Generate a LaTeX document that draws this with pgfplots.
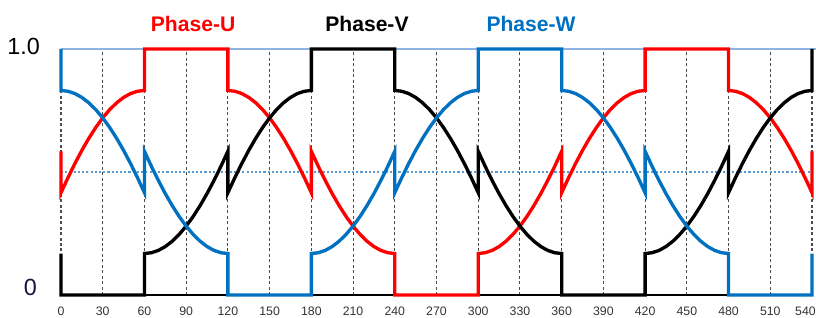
\documentclass[border=0pt]{standalone}
\usepackage{pgfplots}
\pgfplotsset{compat=1.18}
\usepackage{fontspec}
\setmainfont{Liberation Sans}
\definecolor{ured}{RGB}{255,0,0}
\definecolor{wblue}{RGB}{0,112,192}
\definecolor{lblue}{RGB}{141,180,226}
\definecolor{dblue}{RGB}{91,155,213}
\definecolor{navy}{RGB}{20,20,60}
\begin{document}
\begin{tikzpicture}
\useasboundingbox (-1.22,-0.46) rectangle (15.10,5.90);
\begin{axis}[
  at={(0,0)}, anchor=south west, scale only axis,
  width=15.02cm, height=4.92cm,
  xmin=0, xmax=540, ymin=0, ymax=1,
  clip=false,
  axis line style={draw=none},
  xtick={0,30,...,510}, ytick=\empty,
  extra x ticks={540},
  extra x tick style={xticklabel style={xshift=-0.13cm}},
  major tick length=0pt,
  xmajorgrids,
  grid style={color=black!70, line width=0.6pt, dash pattern=on 1.7pt off 1.4pt},
  /pgf/number format/assume math mode=true,
  xticklabel style={font=\fontsize{7}{8}\selectfont, text=black!80, inner sep=0pt, anchor=north, yshift=-0.24cm},
]
\draw[lblue, line width=0.6pt] (axis cs:0,1) -- (axis cs:570,1);
\draw[dblue, line width=0.6pt, dash pattern=on 1.2pt off 1.2pt] (axis cs:0,0.5) -- (axis cs:540,0.5);
\draw[black, line width=0.9pt] (axis cs:0,0) -- (axis cs:540,0);

% Phase-U
\addplot[ured, line width=1.9pt] coordinates {
(0,0.5843)(0,0.4157)(5,0.4769)(10,0.5344)(15,0.5879)(20,0.6369)(25,0.6810)(30,0.7200)(35,0.7535)(40,0.7813)(45,0.8031)(50,0.8188)(55,0.8282)(60,0.8314)
(60,1)(120,1)(120,0.8314)(125,0.8282)(130,0.8188)(135,0.8031)(140,0.7813)(145,0.7535)(150,0.7200)(155,0.6810)(160,0.6369)(165,0.5879)(170,0.5344)(175,0.4769)(180,0.4157)
(180,0.5843)(185,0.5231)(190,0.4656)(195,0.4121)(200,0.3631)(205,0.3190)(210,0.2800)(215,0.2465)(220,0.2187)(225,0.1969)(230,0.1812)(235,0.1718)(240,0.1686)
(240,0)(300,0)(300,0.1686)(305,0.1718)(310,0.1812)(315,0.1969)(320,0.2187)(325,0.2465)(330,0.2800)(335,0.3190)(340,0.3631)(345,0.4121)(350,0.4656)(355,0.5231)(360,0.5843)
(360,0.4157)(365,0.4769)(370,0.5344)(375,0.5879)(380,0.6369)(385,0.6810)(390,0.7200)(395,0.7535)(400,0.7813)(405,0.8031)(410,0.8188)(415,0.8282)(420,0.8314)
(420,1)(480,1)(480,0.8314)(485,0.8282)(490,0.8188)(495,0.8031)(500,0.7813)(505,0.7535)(510,0.7200)(515,0.6810)(520,0.6369)(525,0.5879)(530,0.5344)(535,0.4769)(540,0.4157)(540,0.5843)
};
% Phase-V
\addplot[black, line width=1.9pt] coordinates {
(0,0.1686)(0,0)(60,0)(60,0.1686)(65,0.1718)(70,0.1812)(75,0.1969)(80,0.2187)(85,0.2465)(90,0.2800)(95,0.3190)(100,0.3631)(105,0.4121)(110,0.4656)(115,0.5231)(120,0.5843)
(120,0.4157)(125,0.4769)(130,0.5344)(135,0.5879)(140,0.6369)(145,0.6810)(150,0.7200)(155,0.7535)(160,0.7813)(165,0.8031)(170,0.8188)(175,0.8282)(180,0.8314)
(180,1)(240,1)(240,0.8314)(245,0.8282)(250,0.8188)(255,0.8031)(260,0.7813)(265,0.7535)(270,0.7200)(275,0.6810)(280,0.6369)(285,0.5879)(290,0.5344)(295,0.4769)(300,0.4157)
(300,0.5843)(305,0.5231)(310,0.4656)(315,0.4121)(320,0.3631)(325,0.3190)(330,0.2800)(335,0.2465)(340,0.2187)(345,0.1969)(350,0.1812)(355,0.1718)(360,0.1686)
(360,0)(420,0)(420,0.1686)(425,0.1718)(430,0.1812)(435,0.1969)(440,0.2187)(445,0.2465)(450,0.2800)(455,0.3190)(460,0.3631)(465,0.4121)(470,0.4656)(475,0.5231)(480,0.5843)
(480,0.4157)(485,0.4769)(490,0.5344)(495,0.5879)(500,0.6369)(505,0.6810)(510,0.7200)(515,0.7535)(520,0.7813)(525,0.8031)(530,0.8188)(535,0.8282)(540,0.8314)(540,1)
};
% Phase-W
\addplot[wblue, line width=1.9pt] coordinates {
(0,1)(0,0.8314)(5,0.8282)(10,0.8188)(15,0.8031)(20,0.7813)(25,0.7535)(30,0.7200)(35,0.6810)(40,0.6369)(45,0.5879)(50,0.5344)(55,0.4769)(60,0.4157)
(60,0.5843)(65,0.5231)(70,0.4656)(75,0.4121)(80,0.3631)(85,0.3190)(90,0.2800)(95,0.2465)(100,0.2187)(105,0.1969)(110,0.1812)(115,0.1718)(120,0.1686)
(120,0)(180,0)(180,0.1686)(185,0.1718)(190,0.1812)(195,0.1969)(200,0.2187)(205,0.2465)(210,0.2800)(215,0.3190)(220,0.3631)(225,0.4121)(230,0.4656)(235,0.5231)(240,0.5843)
(240,0.4157)(245,0.4769)(250,0.5344)(255,0.5879)(260,0.6369)(265,0.6810)(270,0.7200)(275,0.7535)(280,0.7813)(285,0.8031)(290,0.8188)(295,0.8282)(300,0.8314)
(300,1)(360,1)(360,0.8314)(365,0.8282)(370,0.8188)(375,0.8031)(380,0.7813)(385,0.7535)(390,0.7200)(395,0.6810)(400,0.6369)(405,0.5879)(410,0.5344)(415,0.4769)(420,0.4157)
(420,0.5843)(425,0.5231)(430,0.4656)(435,0.4121)(440,0.3631)(445,0.3190)(450,0.2800)(455,0.2465)(460,0.2187)(465,0.1969)(470,0.1812)(475,0.1718)(480,0.1686)
(480,0)(540,0)(540,0.1686)
};

\node[anchor=east, font=\fontsize{13.3}{14}\selectfont, text=black] at ([xshift=-0.30cm, yshift=0.06cm]axis cs:0,1) {1.0};
\node[anchor=east, font=\fontsize{13.3}{14}\selectfont, text=navy] at ([xshift=-0.36cm, yshift=0.16cm]axis cs:0,0) {0};
\node[font=\fontsize{12}{13}\selectfont\bfseries, text=ured] at (axis cs:95,1.102) {Phase-U};
\node[font=\fontsize{12}{13}\selectfont\bfseries, text=black] at (axis cs:220,1.102) {Phase-V};
\node[font=\fontsize{12}{13}\selectfont\bfseries, text=wblue] at (axis cs:338,1.102) {Phase-W};
\end{axis}
\end{tikzpicture}
\end{document}
